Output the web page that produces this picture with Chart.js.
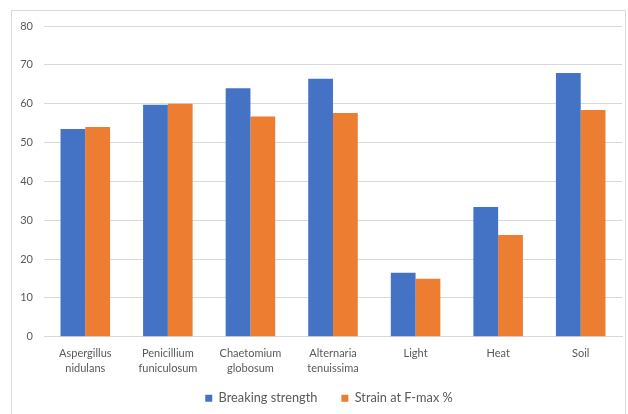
<!DOCTYPE html>
<html>
<head>
<meta charset="utf-8">
<script src="https://cdn.jsdelivr.net/npm/chart.js@4/dist/chart.umd.min.js"></script>
<style>
  html, body { margin: 0; padding: 0; background: #fff; }
  #wrap { position: relative; width: 628px; height: 414px; overflow: hidden; }
  #frame { position: absolute; left: 11px; top: 10px; width: 615px; height: 420px; border: 1px solid #d9d9d9; box-sizing: border-box; }
  canvas { position: absolute; left: 0; top: 0; }
</style>
</head>
<body>
<div id="wrap">
  <div id="frame"></div>
  <canvas id="chart" width="628" height="414"></canvas>
</div>
<script>
// values
const categories = [
    ['Aspergillus', 'nidulans'],
    ['Penicillium', 'funiculosum'],
    ['Chaetomium', 'globosum'],
    ['Alternaria', 'tenuissima'],
    'Light',
    'Heat',
    'Soil'
];
const breakingStrength = [53.5, 59.7, 64.0, 66.4, 16.5, 33.4, 67.9];
const strainAtFmax = [54.0, 60.0, 56.7, 57.6, 14.9, 26.2, 58.4];
const yTicks = [0, 10, 20, 30, 40, 50, 60, 70, 80];

const textColor = '#595959';
const gridColor = '#d9d9d9';

// legend in the reference sits under the plot area, a bit right of canvas centre
const legendShift = {
    id: 'legendShift',
    afterLayout(chart) {
        const lg = chart.legend;
        if (lg) {
            lg.left += 18;
            lg.right += 18;
            lg.top -= 13;
            lg.bottom -= 13;
        }
    }
};

const ctx = document.getElementById('chart').getContext('2d');
new Chart(ctx, {
    type: 'bar',
    data: {
        labels: categories,
        datasets: [
            {
                label: 'Breaking strength',
                data: breakingStrength,
                backgroundColor: '#4472c4',
                borderWidth: 0
            },
            {
                label: 'Strain at F-max %',
                data: strainAtFmax,
                backgroundColor: '#ed7d31',
                borderWidth: 0
            }
        ]
    },
    options: {
        responsive: false,
        animation: false,
        layout: {
            padding: { top: 26, right: 6, bottom: -13.5, left: 0 }
        },
        datasets: {
            bar: { categoryPercentage: 0.6, barPercentage: 1.0 }
        },
        scales: {
            x: {
                grid: { display: false, drawTicks: false },
                border: { display: true, color: gridColor, width: 1 },
                ticks: {
                    color: textColor,
                    font: { family: 'Lato', size: 11, lineHeight: 1.38 },
                    padding: 9,
                    maxRotation: 0,
                    autoSkip: false
                },
                afterFit: (scale) => { scale.height = 44; }
            },
            y: {
                min: 0,
                max: 80,
                afterBuildTicks: (scale) => { scale.ticks = yTicks.map(v => ({ value: v })); },
                grid: { color: gridColor, drawTicks: false, lineWidth: 1 },
                border: { display: false },
                ticks: {
                    color: textColor,
                    font: { family: 'Lato', size: 11 },
                    padding: 11
                },
                afterFit: (scale) => { scale.width = 44; }
            }
        },
        plugins: {
            legend: {
                position: 'bottom',
                labels: {
                    color: textColor,
                    font: { family: 'Lato', size: 12.75 },
                    boxWidth: 7,
                    boxHeight: 7,
                    padding: 24
                }
            },
            tooltip: { enabled: false }
        }
    },
    plugins: [legendShift]
});
</script>
</body>
</html>
